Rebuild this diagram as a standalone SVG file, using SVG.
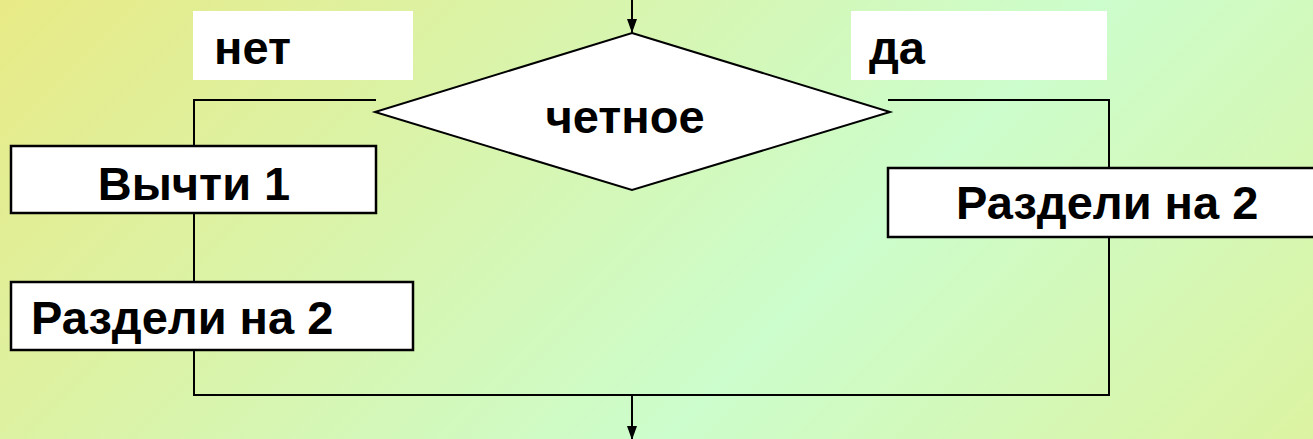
<svg xmlns="http://www.w3.org/2000/svg" width="1313" height="439" viewBox="0 0 1313 439">
  <defs>
    <linearGradient id="bg" gradientUnits="userSpaceOnUse" x1="0" y1="0" x2="1313" y2="1313">
      <stop offset="0" stop-color="#E8EA86"/>
      <stop offset="0.42" stop-color="#CCFDCC"/>
      <stop offset="0.7" stop-color="#DEF29C"/>
    </linearGradient>
    <marker id="arrow" viewBox="0 0 14 10" refX="14" refY="5" markerWidth="14" markerHeight="10" markerUnits="userSpaceOnUse" orient="auto">
      <path d="M0,0 L14,5 L0,10 Z" fill="#000"/>
    </marker>
  </defs>
  <style>
    .lbl { fill: #fff; stroke: none; }
    .box { fill: #fff; stroke: #000; stroke-width: 2.5; }
    .dec { fill: #fff; stroke: #000; stroke-width: 2; }
    .conn { fill: none; stroke: #000; stroke-width: 2; }
    .t { font-family: "Liberation Sans", Arial, sans-serif; font-weight: bold; font-size: 47px; fill: #000; }
  </style>
  <rect x="0" y="0" width="1313" height="439" fill="url(#bg)"/>

  <g id="connectors">
    <path class="conn" d="M632,0 V33" marker-end="url(#arrow)"/>
    <path class="conn" d="M376,100 H194 V146"/>
    <path class="conn" d="M194,213 V282"/>
    <path class="conn" d="M194,350 V395 H1109 V237"/>
    <path class="conn" d="M888,100 H1109 V168"/>
    <path class="conn" d="M632,395 V440" marker-end="url(#arrow)"/>
  </g>

  <g id="label-net">
    <rect class="lbl" x="193" y="11" width="220" height="69"/>
    <text class="t" x="214" y="64">нет</text>
  </g>
  <g id="label-da">
    <rect class="lbl" x="851" y="11" width="256" height="69"/>
    <text class="t" x="869" y="64">да</text>
  </g>
  <g id="decision">
    <polygon class="dec" points="632,33 890,112 632,190 375,112"/>
    <text class="t" x="625" y="133" text-anchor="middle">четное</text>
  </g>
  <g id="subtract">
    <rect class="box" x="11" y="146" width="365" height="67"/>
    <text class="t" x="194" y="200" text-anchor="middle">Вычти 1</text>
  </g>
  <g id="divide-left">
    <rect class="box" x="11" y="282" width="402" height="68"/>
    <text class="t" x="31" y="334">Раздели на 2</text>
  </g>
  <g id="divide-right">
    <rect class="box" x="888" y="168" width="440" height="69"/>
    <text class="t" x="956" y="219">Раздели на 2</text>
  </g>
</svg>
